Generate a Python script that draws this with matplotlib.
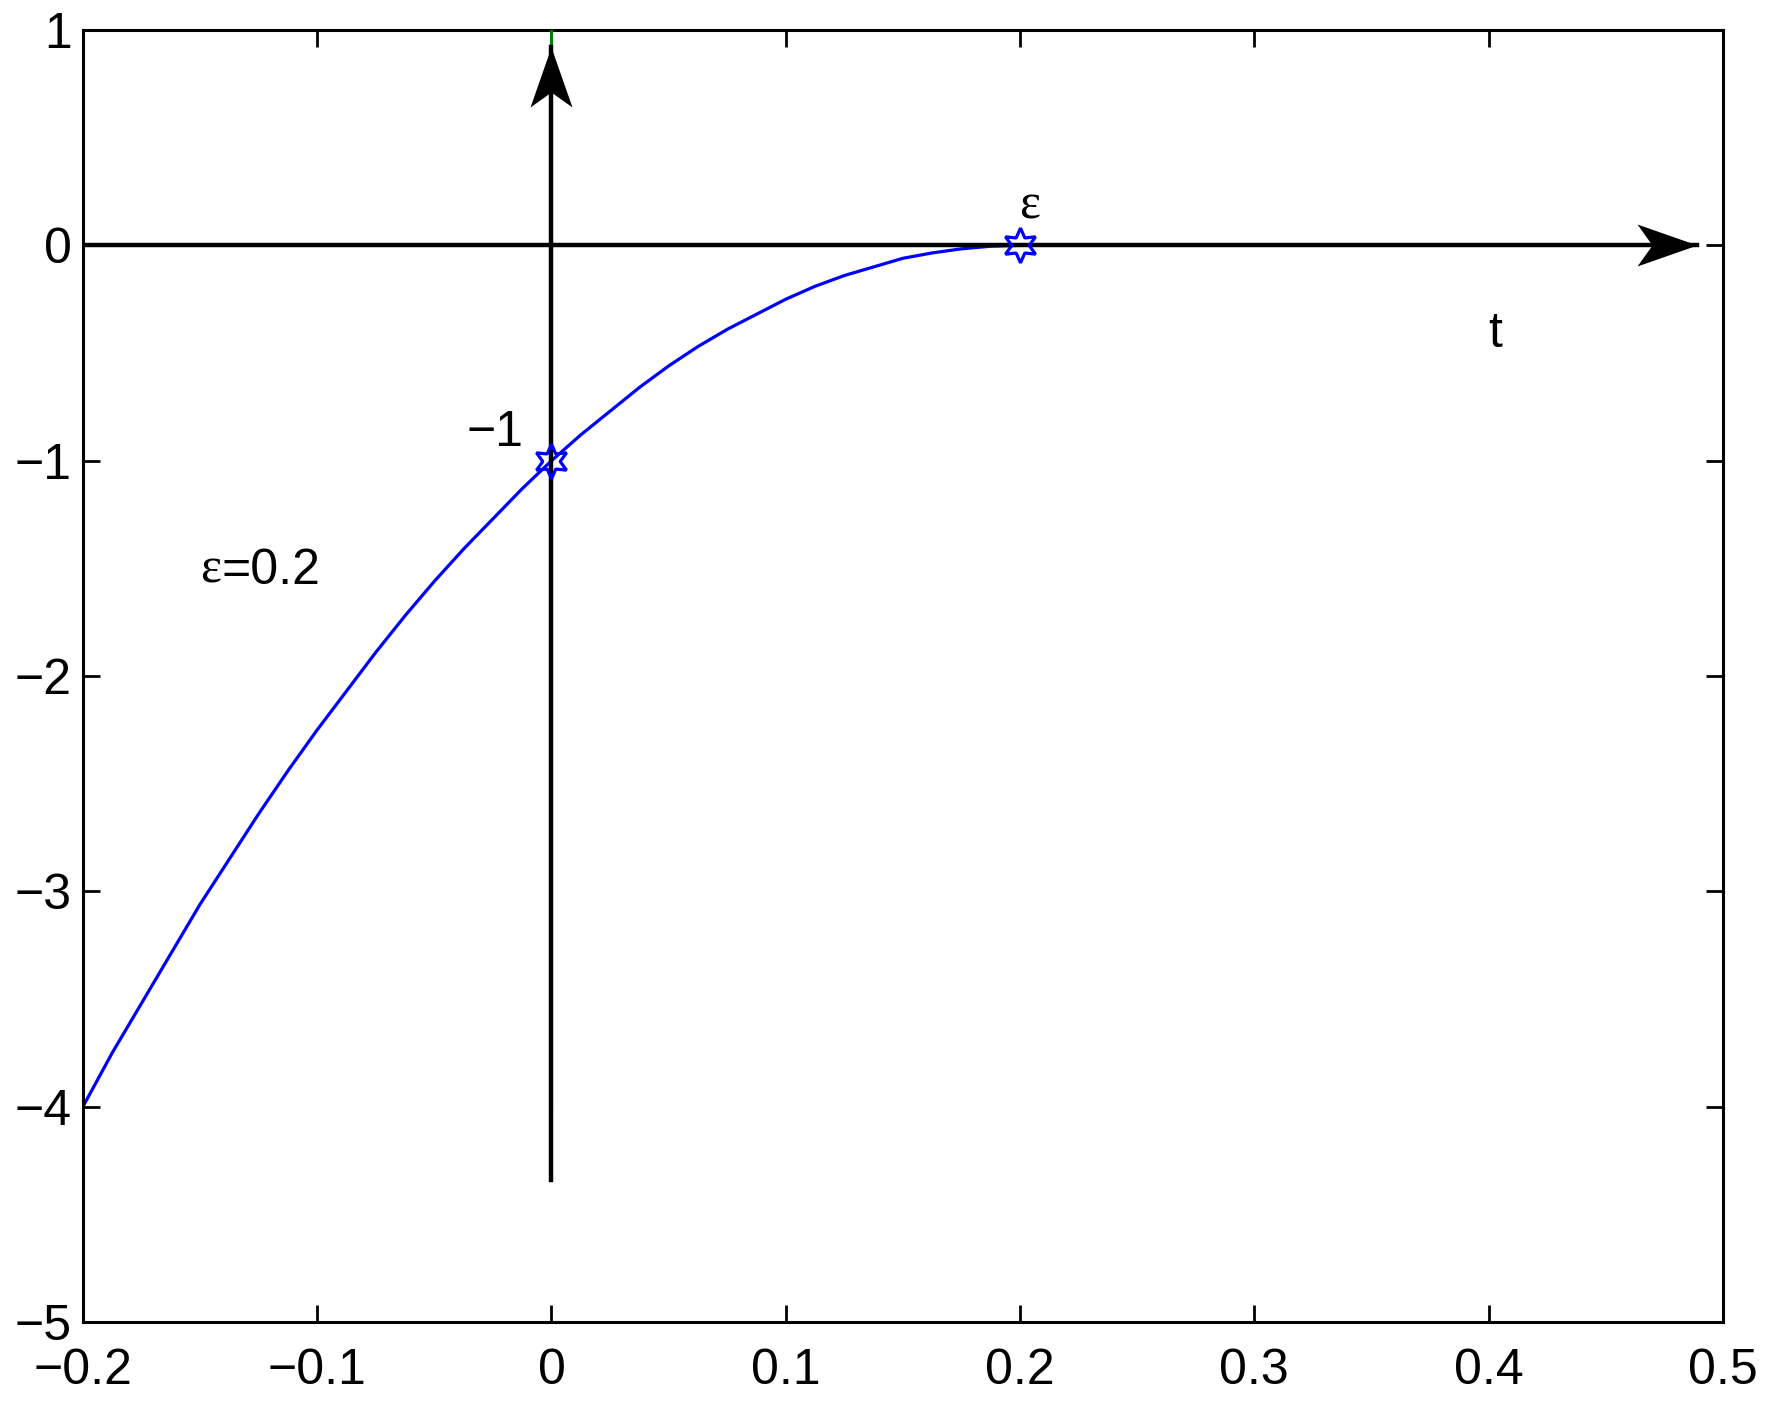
import numpy as np
import matplotlib
matplotlib.use("Agg")
import matplotlib.pyplot as plt
from matplotlib.path import Path

# ---- data ----
t_vals = [-0.2, -0.1875, -0.175, -0.1625, -0.15, -0.1375, -0.125, -0.1125,
          -0.1, -0.0875, -0.075, -0.0625, -0.05, -0.0375, -0.025, -0.0125,
          0.0, 0.0125, 0.025, 0.0375, 0.05, 0.0625, 0.075, 0.0875,
          0.1, 0.1125, 0.125, 0.1375, 0.15, 0.1625, 0.175, 0.1875, 0.2, 0.46]
y_vals = [-4.00, -3.75, -3.52, -3.29, -3.06, -2.85, -2.64, -2.44,
          -2.25, -2.07, -1.89, -1.72, -1.56, -1.41, -1.27, -1.13,
          -1.00, -0.88, -0.77, -0.66, -0.56, -0.47, -0.39, -0.32,
          -0.25, -0.19, -0.14, -0.10, -0.06, -0.035, -0.016, -0.004, 0.00, 0.00]
star_t = [0.0, 0.2]
star_y = [-1.0, 0.0]
x_ticks = [-0.2, -0.1, 0, 0.1, 0.2, 0.3, 0.4, 0.5]
x_labels = ["\u22120.2", "\u22120.1", "0", "0.1", "0.2", "0.3", "0.4", "0.5"]
y_ticks = [-5, -4, -3, -2, -1, 0, 1]
y_labels = ["\u22125", "\u22124", "\u22123", "\u22122", "\u22121", "0", "1"]
haxis_x = [-0.2, 0.489]
vaxis_y = [-4.34, 0.92]
green_y = [-4.0, 1.0]

plt.rcParams['font.family'] = ['Liberation Sans', 'DejaVu Sans']
FS = 36

fig = plt.figure(figsize=(17.76, 14.11), dpi=100)
ax = fig.add_axes([0.0467, 0.0631, 0.9234, 0.9156])

ax.plot(t_vals, y_vals, color='#0000ff', lw=2.3, zorder=2)
ax.plot([0, 0], green_y, color='#008000', lw=2.2, zorder=3)
ax.plot(haxis_x, [0, 0], color='black', lw=3.2, zorder=4)
ax.plot([0, 0], vaxis_y, color='black', lw=3.2, zorder=4)

# notched arrowheads
head = Path([(0, 0), (-60, 21), (-45, 0), (-60, -21), (0, 0)],
            [Path.MOVETO, Path.LINETO, Path.LINETO, Path.LINETO, Path.CLOSEPOLY])
head_up = Path([(0, 0), (21, -60), (0, -45), (-21, -60), (0, 0)],
               [Path.MOVETO, Path.LINETO, Path.LINETO, Path.LINETO, Path.CLOSEPOLY])
ms = 120 / 100 * 72
ax.plot([haxis_x[1]], [0], marker=head, markersize=ms, color='black',
        markeredgewidth=0, zorder=5)
ax.plot([0], [vaxis_y[1]], marker=head_up, markersize=ms, color='black',
        markeredgewidth=0, zorder=5)

ax.plot(star_t, star_y, linestyle='none', marker=(6, 1, 0), markersize=25,
        markerfacecolor='none', markeredgecolor='#0000ff', markeredgewidth=2.3,
        zorder=6)

ax.text(-0.012, -0.87, "\u22121", fontsize=FS, ha='right', va='center')
ax.text(0.204, 0.18, "\u03b5", fontsize=FS, ha='center', va='center',
        family=['Liberation Serif', 'DejaVu Serif'])
ax.text(0.403, -0.41, "t", fontsize=FS, ha='center', va='center')
ax.text(-0.141, -1.51, "\u03b5", fontsize=FS, ha='right', va='center',
        family=['Liberation Serif', 'DejaVu Serif'])
ax.text(-0.141, -1.51, "=0.2", fontsize=FS, ha='left', va='center')

ax.set_xlim(-0.2, 0.5)
ax.set_ylim(-5, 1)
ax.set_xticks(x_ticks)
ax.set_xticklabels(x_labels)
ax.set_yticks(y_ticks)
ax.set_yticklabels(y_labels)
ax.tick_params(direction='in', length=12, width=2, labelsize=FS,
               top=True, right=True, pad=8)
ax.tick_params(axis='x', pad=19)
for s in ax.spines.values():
    s.set_linewidth(2.2)

fig.savefig("out.png", dpi=100)
